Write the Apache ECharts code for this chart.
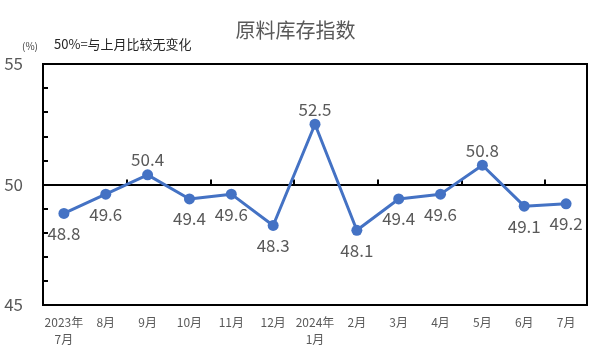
<!DOCTYPE html>
<html><head><meta charset="utf-8">
<script src="https://cdn.jsdelivr.net/npm/echarts@6/dist/echarts.min.js"></script>
<style>html,body{margin:0;padding:0;background:#fff}#c{width:591px;height:354px}</style>
</head><body><div id="c"></div>
<script>
var categories = ['2023年\n7月','8月','9月','10月','11月','12月','2024年\n1月','2月','3月','4月','5月','6月','7月'];
var values = [48.8,49.6,50.4,49.4,49.6,48.3,52.5,48.1,49.4,49.6,50.8,49.1,49.2];
var labelPos = ['bottom','bottom','top','bottom','bottom','bottom','top','bottom','bottom','bottom','top','bottom','bottom'];
var yTickLabels = [45,50,55];

var font = '"Noto Sans CJK SC", "Noto Sans", sans-serif';
var chart = echarts.init(document.getElementById('c'));
chart.setOption({
  animation:false,
  title:[{text:'原料库存指数',left:'center',top:15,textStyle:{fontSize:20,fontWeight:'normal',color:'#595959',fontFamily:font}}],
  graphic:[
    {type:'text',left:22,top:41,style:{text:'(%)',fontSize:10,fill:'#404040',fontFamily:font}},
    {type:'text',left:54,top:38,style:{text:'50%=与上月比较无变化',fontSize:13,fill:'#262626',fontFamily:font}}
  ],
  grid:[
    {left:43,right:4,top:64,bottom:49,show:true,borderColor:'#000',borderWidth:2,containLabel:false},
    {left:43,right:4,top:64,height:120.5,show:false}
  ],
  xAxis:[
    {type:'category',gridIndex:0,data:categories,boundaryGap:true,
      axisLine:{show:true,lineStyle:{color:'#000',width:2}},axisTick:{show:false},
      axisLabel:{interval:0,color:'#595959',fontSize:12,fontFamily:font,margin:9,lineHeight:17}},
    {type:'category',gridIndex:1,data:categories,boundaryGap:true,position:'bottom',
      axisLine:{show:true,lineStyle:{color:'#000',width:2}},
      axisTick:{show:true,inside:true,length:5,lineStyle:{color:'#000',width:2}},
      axisLabel:{show:false}}
  ],
  yAxis:[
    {type:'value',gridIndex:0,min:45,max:55,interval:1,
      axisLine:{show:true,lineStyle:{color:'#000',width:2}},
      axisTick:{show:true,inside:true,length:5,lineStyle:{color:'#000',width:2}},
      splitLine:{show:false},
      axisLabel:{color:'#595959',fontSize:17,fontFamily:font,margin:20,
        formatter:function(v){return yTickLabels.indexOf(v)>=0?String(v):'';}}},
    {type:'value',gridIndex:1,min:50,max:55,show:false}
  ],
  series:[{
    type:'line',xAxisIndex:0,yAxisIndex:0,
    data:values.map(function(v,i){return {value:v,label:{position:labelPos[i],distance:labelPos[i]==='top'?1:6}};}),
    symbol:'circle',symbolSize:11,
    lineStyle:{color:'#4472C4',width:3},
    itemStyle:{color:'#4472C4'},
    label:{show:true,color:'#595959',fontSize:17,fontFamily:font},
    z:5
  }]
});
</script></body></html>
